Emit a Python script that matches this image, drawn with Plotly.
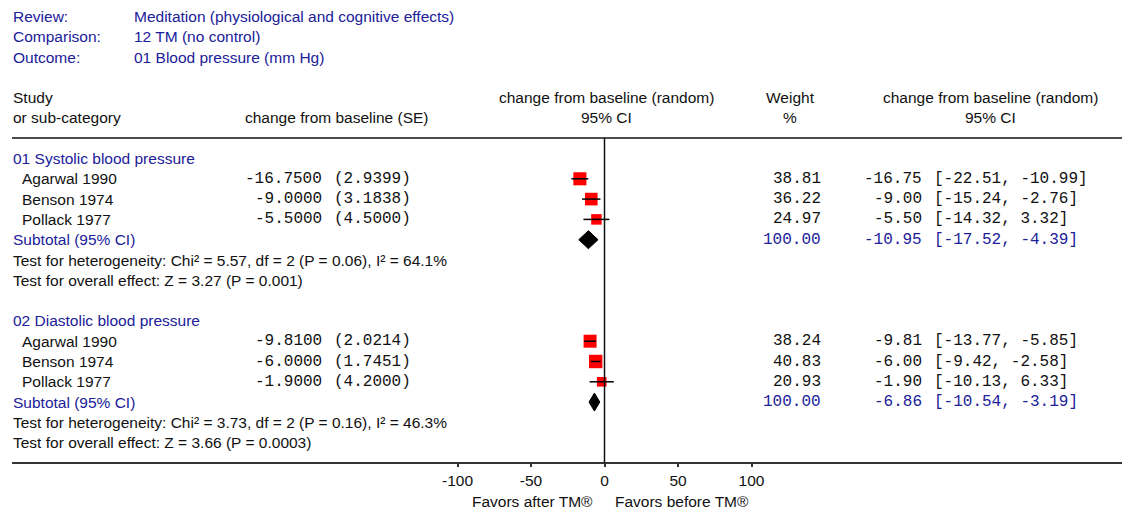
import plotly.graph_objects as go

# ---------------- data ----------------
review = "Meditation (physiological and cognitive effects)"
comparison = "12 TM (no control)"
outcome = "01 Blood pressure (mm Hg)"

groups = ["01 Systolic blood pressure", "02 Diastolic blood pressure"]
studies = ["Agarwal 1990", "Benson 1974", "Pollack 1977"]

sys_est = [-16.75, -9.00, -5.50]
sys_se = [2.9399, 3.1838, 4.5000]
sys_weight = [38.81, 36.22, 24.97]
sys_lo = [-22.51, -15.24, -14.32]
sys_hi = [-10.99, -2.76, 3.32]
sys_total = [-10.95, -17.52, -4.39]  # estimate, lower, upper

dia_est = [-9.81, -6.00, -1.90]
dia_se = [2.0214, 1.7451, 4.2000]
dia_weight = [38.24, 40.83, 20.93]
dia_lo = [-13.77, -9.42, -10.13]
dia_hi = [-5.85, -2.58, 6.33]
dia_total = [-6.86, -10.54, -3.19]

heterogeneity = [
    "Test for heterogeneity: Chi\u00b2 = 5.57, df = 2 (P = 0.06), I\u00b2 = 64.1%",
    "Test for heterogeneity: Chi\u00b2 = 3.73, df = 2 (P = 0.16), I\u00b2 = 46.3%",
]
overall = [
    "Test for overall effect: Z = 3.27 (P = 0.001)",
    "Test for overall effect: Z = 3.66 (P = 0.0003)",
]

tick_vals = [-100, -50, 0, 50, 100]
tick_text = ["-100", "-50", "0", "50", "100"]
favours = ["Favors after TM\u00ae", "Favors before TM\u00ae"]

# ---------------- layout helpers ----------------
W, H = 1134, 512
SANS = "Liberation Sans"
MONO = "Liberation Mono"
BLUE = "#20209a"
BLACK = "#111111"
SANS_SIZE = 15.5
MONO_SIZE = 16

LEFT, RIGHT = 12, 1122          # horizontal extent of rules / axis
ZERO_PX, PX_PER_UNIT = 604.5, 1.47
HEADER_RULE_Y, AXIS_Y = 138, 463
ROW0, ROW_STEP = 158.5, 20.3


def row_y(i):
    return ROW0 + ROW_STEP * i


x_range = [(LEFT - ZERO_PX) / PX_PER_UNIT, (RIGHT - ZERO_PX) / PX_PER_UNIT]

annotations = []


def text(px, y, s, anchor="left", color=BLACK, font=SANS, size=SANS_SIZE):
    annotations.append(dict(
        x=px / W, xref="paper", y=y, yref="y", text=s, showarrow=False,
        xanchor=anchor, yanchor="middle", borderpad=0,
        font=dict(family=font, size=size, color=color),
    ))


# title block
for i, (k, v) in enumerate([("Review:", review), ("Comparison:", comparison), ("Outcome:", outcome)]):
    y = 16 + 20.5 * i
    text(12, y, k, color=BLUE)
    text(133, y, v, color=BLUE)

# column headers
text(12, 97, "Study")
text(12, 117, "or sub-category")
text(337, 117, "change from baseline (SE)", anchor="center")
text(606, 97, "change from baseline (random)", anchor="center")
text(606, 117, "95% CI", anchor="center")
text(790, 97, "Weight", anchor="center")
text(790, 117, "%", anchor="center")
text(990, 97, "change from baseline (random)", anchor="center")
text(990, 117, "95% CI", anchor="center")

fig = go.Figure()

group_data = [
    (sys_est, sys_se, sys_weight, sys_lo, sys_hi, sys_total),
    (dia_est, dia_se, dia_weight, dia_lo, dia_hi, dia_total),
]

sq_x, sq_y, sq_size = [], [], []
ci_x, ci_y = [], []

for g, (est, se, wt, lo, hi, total) in enumerate(group_data):
    base = 8 * g
    text(12, row_y(base), groups[g], color=BLUE)
    for j, name in enumerate(studies):
        y = row_y(base + 1 + j)
        text(21, y, name)
        text(323, y, f"{est[j]:.4f}", anchor="right", font=MONO, size=MONO_SIZE)
        text(333, y, f"({se[j]:.4f})", anchor="left", font=MONO, size=MONO_SIZE)
        text(822, y, f"{wt[j]:.2f}", anchor="right", font=MONO, size=MONO_SIZE)
        text(923, y, f"{est[j]:.2f}", anchor="right", font=MONO, size=MONO_SIZE)
        text(933, y, f"[{lo[j]:.2f}, {hi[j]:.2f}]", anchor="left", font=MONO, size=MONO_SIZE)
        sq_x.append(est[j])
        sq_y.append(y)
        sq_size.append(2.1 * wt[j] ** 0.5)
        ci_x += [lo[j], hi[j], None]
        ci_y += [y, y, None]

    ys = row_y(base + 4)
    t_est, t_lo, t_hi = total
    text(12, ys, "Subtotal (95% CI)", color=BLUE)
    text(822, ys, f"{sum(wt):.2f}", anchor="right", font=MONO, size=MONO_SIZE, color=BLUE)
    text(923, ys, f"{t_est:.2f}", anchor="right", font=MONO, size=MONO_SIZE, color=BLUE)
    text(933, ys, f"[{t_lo:.2f}, {t_hi:.2f}]", anchor="left", font=MONO, size=MONO_SIZE, color=BLUE)
    text(12, row_y(base + 5), heterogeneity[g])
    text(12, row_y(base + 6), overall[g])

    # pooled diamond
    half = 9
    fig.add_trace(go.Scatter(
        x=[t_lo, t_est, t_hi, t_est, t_lo],
        y=[ys, ys - half, ys, ys + half, ys],
        mode="lines", fill="toself", fillcolor="black",
        line=dict(color="black", width=1), hoverinfo="skip",
    ))

# study squares, then CI whiskers on top
fig.add_trace(go.Scatter(
    x=sq_x, y=sq_y, mode="markers", opacity=1,
    marker=dict(symbol="square", size=sq_size, color="#ff0000", opacity=1, line=dict(width=0)),
    hoverinfo="skip",
))
fig.add_trace(go.Scatter(
    x=ci_x, y=ci_y, mode="lines", line=dict(color="black", width=1.5),
    hoverinfo="skip", connectgaps=False,
))

# favour labels under the axis
text(ZERO_PX + PX_PER_UNIT * -49, 501, favours[0], anchor="center")
text(ZERO_PX + PX_PER_UNIT * 53, 501, favours[1], anchor="center")

shapes = [
    # rule under the headers
    dict(type="line", xref="paper", yref="y", x0=LEFT / W, x1=RIGHT / W,
         y0=HEADER_RULE_Y, y1=HEADER_RULE_Y, line=dict(color=BLACK, width=1.5)),
    # line of no effect
    dict(type="line", xref="x", yref="y", x0=0, x1=0,
         y0=HEADER_RULE_Y, y1=AXIS_Y, line=dict(color=BLACK, width=1.5)),
]

fig.update_layout(
    width=W, height=H,
    margin=dict(l=0, r=0, t=0, b=0),
    paper_bgcolor="white", plot_bgcolor="white",
    showlegend=False,
    annotations=annotations,
    shapes=shapes,
    xaxis=dict(
        domain=[LEFT / W, RIGHT / W], range=x_range,
        anchor="free", position=1 - AXIS_Y / H,
        showline=True, linecolor="#333333", linewidth=2,
        tickvals=tick_vals, ticktext=tick_text,
        ticks="outside", ticklen=3, tickcolor="#333333", tickwidth=1.5,
        ticklabelstandoff=0,
        tickfont=dict(family=SANS, size=SANS_SIZE, color=BLACK),
        showgrid=False, zeroline=False, fixedrange=True,
    ),
    yaxis=dict(range=[H, 0], visible=False, showgrid=False, zeroline=False, fixedrange=True),
)

fig.write_html("out.html", config={"displayModeBar": False})
